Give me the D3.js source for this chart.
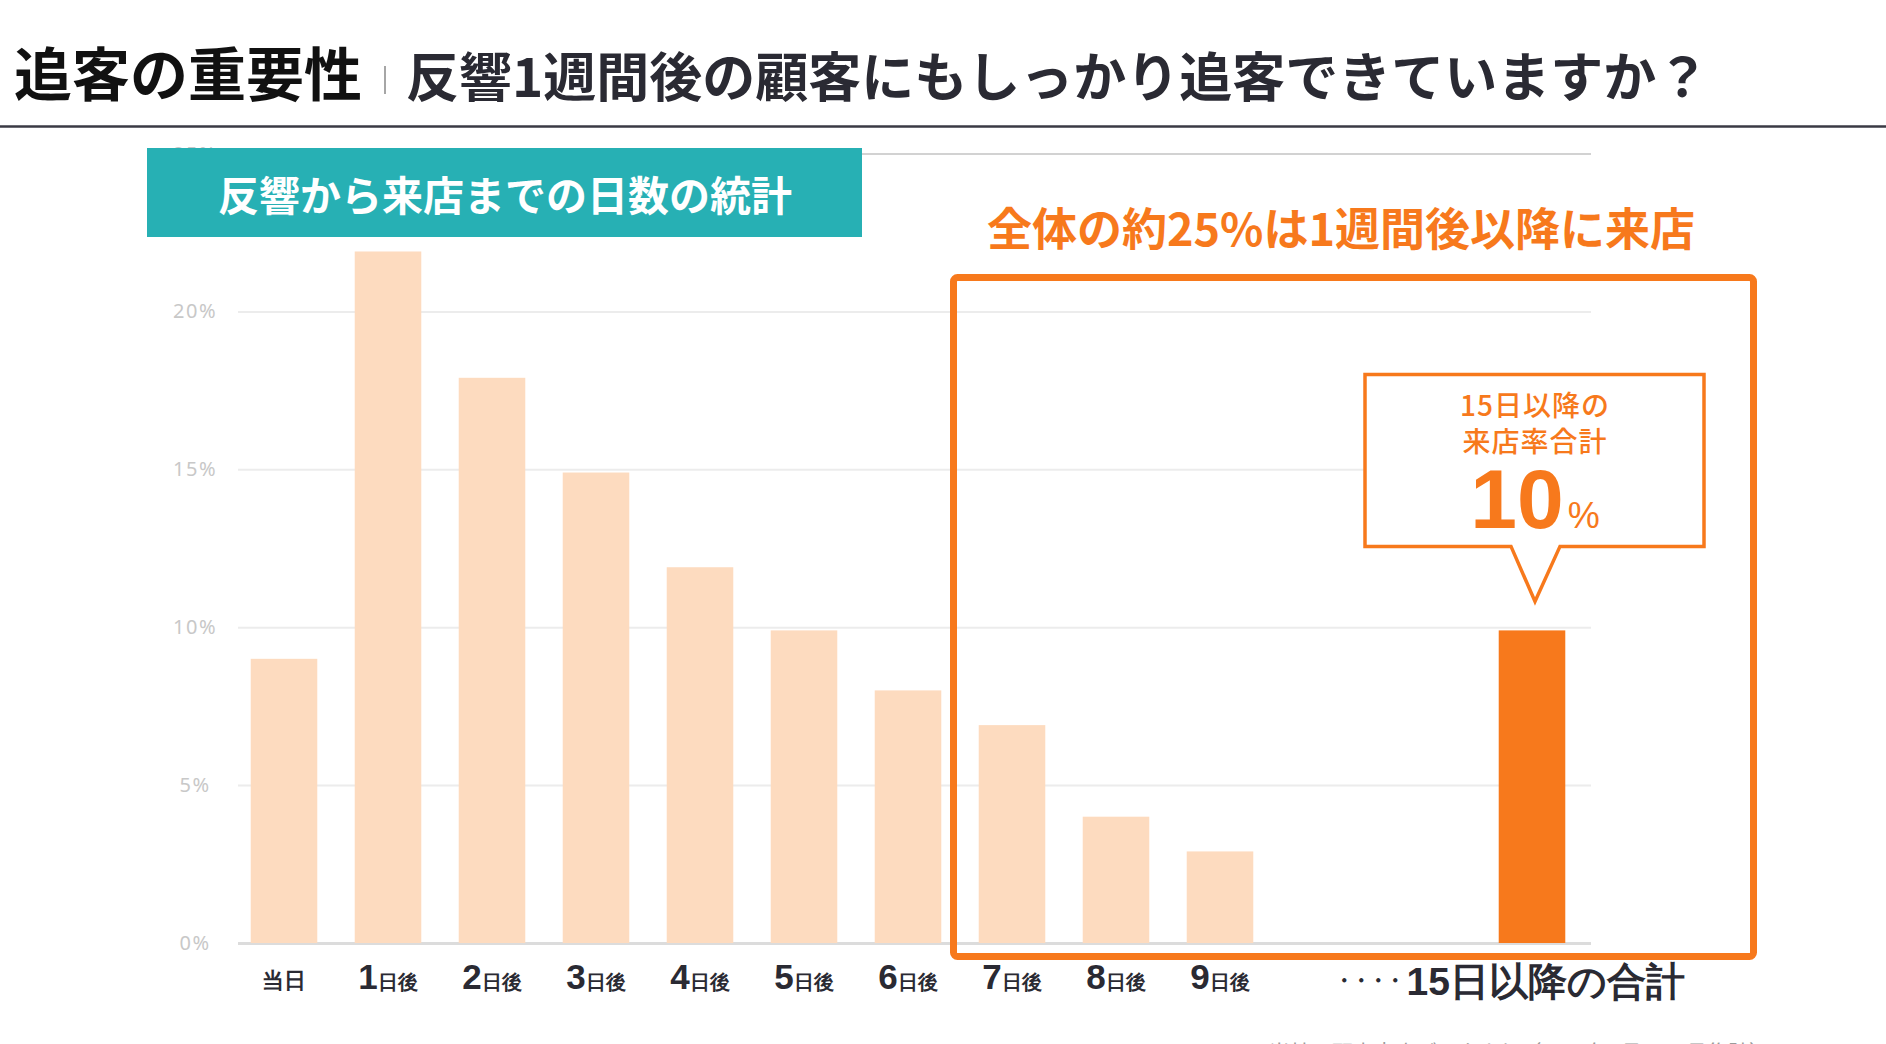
<!DOCTYPE html>
<html lang="ja">
<head>
<meta charset="utf-8">
<script src="https://cdn.jsdelivr.net/npm/d3@7"></script>
<style>
  body { margin: 0; background: #fff; }
  svg { display: block; font-family: "Noto Sans CJK JP", "Noto Sans", sans-serif; }
</style>
</head>
<body>
<script>
// chart data
const categories = ["当日", "1日後", "2日後", "3日後", "4日後", "5日後", "6日後", "7日後", "8日後", "9日後", "15日以降"];
const rates = [9.0, 21.9, 17.9, 14.9, 11.9, 9.9, 8.0, 6.9, 4.0, 2.9, 9.9];
const slots = categories.slice(0, 10).concat(["gap1", "gap2"], categories.slice(10));
const highlightCategory = "15日以降";
const yTicks = [0, 5, 10, 15, 20, 25];

// texts
const titleMain = "追客の重要性";
const titleSub = "反響1週間後の顧客にもしっかり追客できていますか？";
const panelLabel = "反響から来店までの日数の統計";
const noteText = "全体の約25%は1週間後以降に来店";
const calloutLines = ["15日以降の", "来店率合計"];
const calloutValue = "10";
const lastLabel = ["・・・・", "15日以降の合計"];
const footText = "※当社の顧客来店データより（2019年1月〜12月集計）";

const orange = "#f7791c",
  peach = "#fddbbf",
  teal = "#27b0b4",
  ink = "#2a2a33";

var width = 1886,
  height = 1044,
  plotLeft = 238,
  plotRight = 1591;

var svg = d3
  .select("body")
  .append("svg")
  .attr("width", width)
  .attr("height", height);

var xScale = d3
  .scaleBand()
  .domain(slots)
  .range([232, 1584])
  .paddingInner(0.36)
  .paddingOuter(0.18);

var yScale = d3.scaleLinear().domain([0, 25]).range([943, 153.6]);

// header
svg
  .append("text")
  .text(titleMain)
  .attr("x", 14)
  .attr("y", 71)
  .attr("dominant-baseline", "central")
  .style("font-size", "58px")
  .style("font-weight", "700")
  .style("fill", "#111");

svg
  .append("line")
  .attr("x1", 385)
  .attr("x2", 385)
  .attr("y1", 66)
  .attr("y2", 94)
  .style("stroke", "#888")
  .style("stroke-width", 1.5);

svg
  .append("text")
  .text(titleSub)
  .attr("x", 406)
  .attr("y", 74)
  .attr("dominant-baseline", "central")
  .style("font-size", "53px")
  .style("font-weight", "700")
  .style("fill", ink);

svg
  .append("line")
  .attr("x1", 0)
  .attr("x2", width)
  .attr("y1", 126.5)
  .attr("y2", 126.5)
  .style("stroke", "#3a3a44")
  .style("stroke-width", 2.5);

// grid + y labels
var yAxis = d3
  .axisLeft(yScale)
  .tickValues(yTicks)
  .tickSize(-(plotRight - plotLeft))
  .tickPadding(43)
  .tickFormat((d) => d + "%");

var yG = svg
  .append("g")
  .attr("transform", `translate(${plotLeft},0)`)
  .call(yAxis);

yG.select(".domain").remove();
yG.selectAll(".tick line")
  .style("stroke", (d) => (d === 0 ? "#dcdcdc" : d === 25 ? "#d2d2d2" : "#ececec"))
  .style("stroke-width", (d) => (d === 0 ? 3 : 2));
yG.selectAll(".tick text")
  .attr("text-anchor", "middle")
  .style("font-size", "20px")
  .style("letter-spacing", "1.5px")
  .style("fill", "#c8c8c8")
  .style("font-family", "'Noto Sans', sans-serif");

// bars
svg
  .selectAll(".bar")
  .data(categories)
  .enter()
  .append("rect")
  .attr("class", "bar")
  .attr("x", (d) => xScale(d))
  .attr("y", (d, i) => yScale(rates[i]))
  .attr("width", xScale.bandwidth())
  .attr("height", (d, i) => yScale(0) - yScale(rates[i]))
  .style("fill", (d) => (d === highlightCategory ? orange : peach));

// x labels
var xAxis = d3.axisBottom(xScale).tickSize(0).tickPadding(0);

var xG = svg
  .append("g")
  .attr("transform", `translate(0,${yScale(0)})`)
  .call(xAxis);

xG.select(".domain").remove();
xG.selectAll(".tick")
  .filter((d) => !categories.includes(d))
  .remove();

xG.selectAll(".tick text").each(function (d) {
  var t = d3.select(this).text("").attr("dy", null).style("fill", ink).style("font-weight", "700");
  if (d === "当日") {
    t.attr("y", 45).style("font-size", "22px").text(d);
  } else if (d === highlightCategory) {
    t.attr("y", 52).attr("dx", 153).attr("text-anchor", "end");
    t.append("tspan")
      .text(lastLabel[0])
      .attr("dy", -7)
      .style("font-size", "22px")
      .style("letter-spacing", "-5px")
      .style("font-weight", "700");
    t.append("tspan").text(lastLabel[1]).attr("dx", 6).attr("dy", 7).style("font-size", "39px");
  } else {
    var num = d.replace("日後", "");
    t.attr("y", 46);
    t.append("tspan").text(num).style("font-size", "35px");
    t.append("tspan").text("日後").style("font-size", "20px");
  }
});

// panel label
svg
  .append("rect")
  .attr("x", 147)
  .attr("y", 148)
  .attr("width", 715)
  .attr("height", 89)
  .style("fill", teal);

svg
  .append("text")
  .text(panelLabel)
  .attr("x", 505)
  .attr("y", 192.5)
  .attr("text-anchor", "middle")
  .attr("dominant-baseline", "central")
  .style("font-size", "41px")
  .style("font-weight", "700")
  .style("fill", "#fff");

// highlight frame + note
svg
  .append("rect")
  .attr("x", 953.5)
  .attr("y", 277.5)
  .attr("width", 800)
  .attr("height", 679)
  .attr("rx", 4)
  .style("fill", "none")
  .style("stroke", orange)
  .style("stroke-width", 7);

svg
  .append("text")
  .text(noteText)
  .attr("x", 1341)
  .attr("y", 226)
  .attr("text-anchor", "middle")
  .attr("dominant-baseline", "central")
  .style("font-size", "45px")
  .style("font-weight", "700")
  .style("fill", orange);

// callout over highlighted bar
var hi = categories.indexOf(highlightCategory);
var cx = xScale(highlightCategory) + xScale.bandwidth() / 2 + 3;
var tipY = yScale(rates[hi]) - 29;
var boxBottom = tipY - 55,
  boxTop = boxBottom - 172,
  boxLeft = cx - 170,
  boxRight = cx + 169;

svg
  .append("path")
  .attr(
    "d",
    `M${boxLeft},${boxTop}H${boxRight}V${boxBottom}H${cx + 25}L${cx},${tipY}L${cx - 24},${boxBottom}H${boxLeft}Z`
  )
  .style("fill", "#fff")
  .style("stroke", orange)
  .style("stroke-width", 3.5)
  .style("stroke-linejoin", "miter");

calloutLines.forEach((line, i) => {
  svg
    .append("text")
    .text(line)
    .attr("x", cx)
    .attr("y", boxTop + 30 + i * 36)
    .attr("text-anchor", "middle")
    .attr("dominant-baseline", "central")
    .style("font-size", "28px")
    .style("font-weight", "500")
    .style("letter-spacing", "1px")
    .style("fill", orange);
});

var big = svg
  .append("text")
  .attr("x", cx)
  .attr("y", boxTop + 154)
  .attr("text-anchor", "middle")
  .style("fill", orange)
  .style("font-family", "'Liberation Sans', Arial, sans-serif")
  .style("font-weight", "700");
big.append("tspan").text(calloutValue).style("font-size", "84px");
big.append("tspan").text("%").attr("dx", 4).style("font-size", "36px").style("font-weight", "400");

// footnote (mostly below the fold)
svg
  .append("text")
  .text(footText)
  .attr("x", 1770)
  .attr("y", 1060)
  .attr("text-anchor", "end")
  .style("font-size", "21px")
  .style("fill", "#9a9a9a");
</script>
</body>
</html>
